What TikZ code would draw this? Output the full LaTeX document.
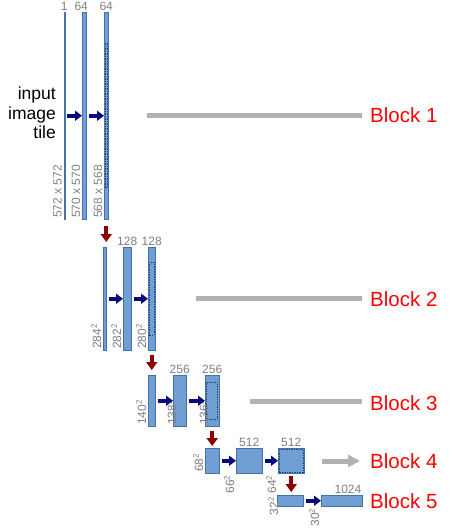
\documentclass[tikz,border=0pt]{standalone}
\usepackage{fontspec}
\setmainfont{Liberation Sans}
\usetikzlibrary{arrows.meta,positioning}
\definecolor{barfill}{RGB}{114,159,211}
\definecolor{barline}{RGB}{68,114,170}
\definecolor{convblue}{RGB}{10,10,128}
\definecolor{pooldark}{RGB}{139,0,0}
\definecolor{dimgray}{RGB}{128,128,128}
\definecolor{guidegray}{RGB}{178,178,178}
\newcommand{\sqd}{\textsuperscript{2}}

\begin{document}
\begin{tikzpicture}[
        x=1pt, y=-1pt,
        bar/.style={draw=barline, fill=barfill, line width=0.5pt, inner sep=0pt, anchor=north west},
        crop/.style={draw=barline!60!black, dash pattern=on 1.5pt off 1pt, line width=0.8pt, inner sep=0pt},
        conv/.style={draw=convblue, line width=3.5pt, -{Triangle[length=7pt,width=10pt]}, shorten <=2pt},
        pool/.style={draw=pooldark, line width=4pt, -{Triangle[length=8pt,width=11pt]}},
        dim/.style={text=dimgray, font=\fontsize{12}{13}\selectfont, inner sep=1pt},
        side/.style={dim, rotate=90, inner sep=1.5pt},
        guide/.style={draw=guidegray, line width=5pt, shorten >=8pt},
        blocklbl/.style={text=red, font=\fontsize{20.5}{24}\selectfont, inner sep=0pt, anchor=base west}
    ]
    \useasboundingbox (0,0) rectangle (453,528);

    % block 1
    \node[bar, minimum width=1pt, minimum height=207pt] (b1c1) at (63.5,12) {};
    \node[bar, minimum width=4pt, minimum height=207pt] (b1c2) at (82,12) {};
    \node[bar, minimum width=4pt, minimum height=207pt] (b1c3) at (104,12) {};
    \node[crop, minimum width=2pt, minimum height=144pt] (b1crop) at (b1c3) {};
    \node[dim, above=0pt of b1c1] (n1c1) {1};
    \node[dim, above=0pt of b1c2, xshift=-3pt] (n1c2) {64};
    \node[dim, above=0pt of b1c3] (n1c3) {64};
    \node[side, anchor=south west] (s1c1) at (b1c1.south west) {572 x 572};
    \node[side, anchor=south west] (s1c2) at (b1c2.south west) {570 x 570};
    \node[side, anchor=south west] (s1c3) at (b1c3.south west) {568 x 568};
    \node[align=right, anchor=east, font=\fontsize{17.5}{19.5}\selectfont, inner sep=0pt] (inlbl) at (56,113) {input\\image\\tile};
    \draw[conv] (b1c1) -- (b1c2);
    \draw[conv] (b1c2) -- (b1c3);

    % block 2
    \node[bar, minimum width=3pt, minimum height=103pt] (b2c1) at (103,247) {};
    \node[bar, minimum width=8pt, minimum height=103pt] (b2c2) at (123,247) {};
    \node[bar, minimum width=7pt, minimum height=103pt] (b2c3) at (148,247) {};
    \node[crop, minimum width=5pt, minimum height=73pt] (b2crop) at (b2c3) {};
    \node[dim, above=0pt of b2c2] (n2c2) {128};
    \node[dim, above=0pt of b2c3] (n2c3) {128};
    \node[side, anchor=south west] (s2c1) at (b2c1.south west) {284\sqd};
    \node[side, anchor=south west] (s2c2) at (b2c2.south west) {282\sqd};
    \node[side, anchor=south west] (s2c3) at (b2c3.south west) {280\sqd};
    \draw[conv] (b2c1) -- (b2c2);
    \draw[conv] (b2c2) -- (b2c3);

    % block 3
    \node[bar, minimum width=7pt, minimum height=51pt] (b3c1) at (148,375) {};
    \node[bar, minimum width=13pt, minimum height=51pt] (b3c2) at (173,375) {};
    \node[bar, minimum width=14pt, minimum height=51pt] (b3c3) at (205,375) {};
    \node[crop, minimum width=11pt, minimum height=37pt] (b3crop) at (b3c3) {};
    \node[dim, above=0pt of b3c2] (n3c2) {256};
    \node[dim, above=0pt of b3c3] (n3c3) {256};
    \node[side, anchor=south west] (s3c1) at (b3c1.south west) {140\sqd};
    \node[side, anchor=south west, yshift=-5pt] (s3c2) at (b3c2.south west) {138\sqd};
    \node[side, anchor=south west, yshift=-5pt] (s3c3) at (b3c3.south west) {136\sqd};
    \draw[conv] (b3c1) -- (b3c2);
    \draw[conv] (b3c2) -- (b3c3);

    % block 4
    \node[bar, minimum width=14pt, minimum height=25pt] (b4c1) at (205,448) {};
    \node[bar, minimum width=26pt, minimum height=25pt] (b4c2) at (236,448) {};
    \node[bar, minimum width=26pt, minimum height=25pt] (b4c3) at (278,448) {};
    \node[crop, minimum width=24pt, minimum height=23pt] (b4crop) at (b4c3) {};
    \node[dim, above=0pt of b4c2] (n4c2) {512};
    \node[dim, above=0pt of b4c3] (n4c3) {512};
    \node[side, anchor=south west] (s4c1) at (b4c1.south west) {68\sqd};
    \node[side, anchor=south east] (s4c2) at (b4c2.south west) {66\sqd};
    \node[side, anchor=south east] (s4c3) at (b4c3.south west) {64\sqd};
    \draw[conv] (b4c1) -- (b4c2);
    \draw[conv] (b4c2) -- (b4c3);

    % block 5
    \node[bar, minimum width=26pt, minimum height=11pt] (b5c1) at (277,495) {};
    \node[bar, minimum width=41pt, minimum height=11pt] (b5c2) at (321,495) {};
    \node[dim, anchor=south east] (n5c2) at (b5c2.north east) {1024};
    \node[side, anchor=south east, yshift=-3pt] (s5c1) at (b5c1.north west) {32\sqd};
    \node[side, anchor=south east] (s5c2) at (b5c2.south west) {30\sqd};
    \draw[conv] (b5c1) -- (b5c2);

    % down steps
    \draw[pool, shorten <=6pt, shorten >=5pt] (b1c3.south) -- (b1c3.south |- b2c1.north);
    \draw[pool, shorten <=4pt, shorten >=5pt] (b2c3.south) -- (b2c3.south |- b3c1.north);
    \draw[pool, shorten <=4pt, shorten >=2pt] (b3c3.south) -- (b3c3.south |- b4c1.north);
    \draw[pool, shorten <=2pt, shorten >=3pt] (b4c3.south) -- (b4c3.south |- b5c1.north);

    % block labels
    \node[blocklbl] (blk1) at (370,122) {Block 1};
    \node[blocklbl] (blk2) at (370,306) {Block 2};
    \node[blocklbl] (blk3) at (370,410) {Block 3};
    \node[blocklbl] (blk4) at (370,468) {Block 4};
    \node[blocklbl] (blk5) at (370,508) {Block 5};
    \coordinate (g1) at (147,115.5);
    \coordinate (g2) at (196,298);
    \coordinate (g3) at (250,401);
    \coordinate (g4) at (322,461);
    \draw[guide] (g1) -- (g1 -| blk1.west);
    \draw[guide] (g2) -- (g2 -| blk2.west);
    \draw[guide] (g3) -- (g3 -| blk3.west);
    \draw[guide, shorten >=10pt, -{Triangle[length=12pt,width=12pt]}] (g4) -- (g4 -| blk4.west);
\end{tikzpicture}
\end{document}
